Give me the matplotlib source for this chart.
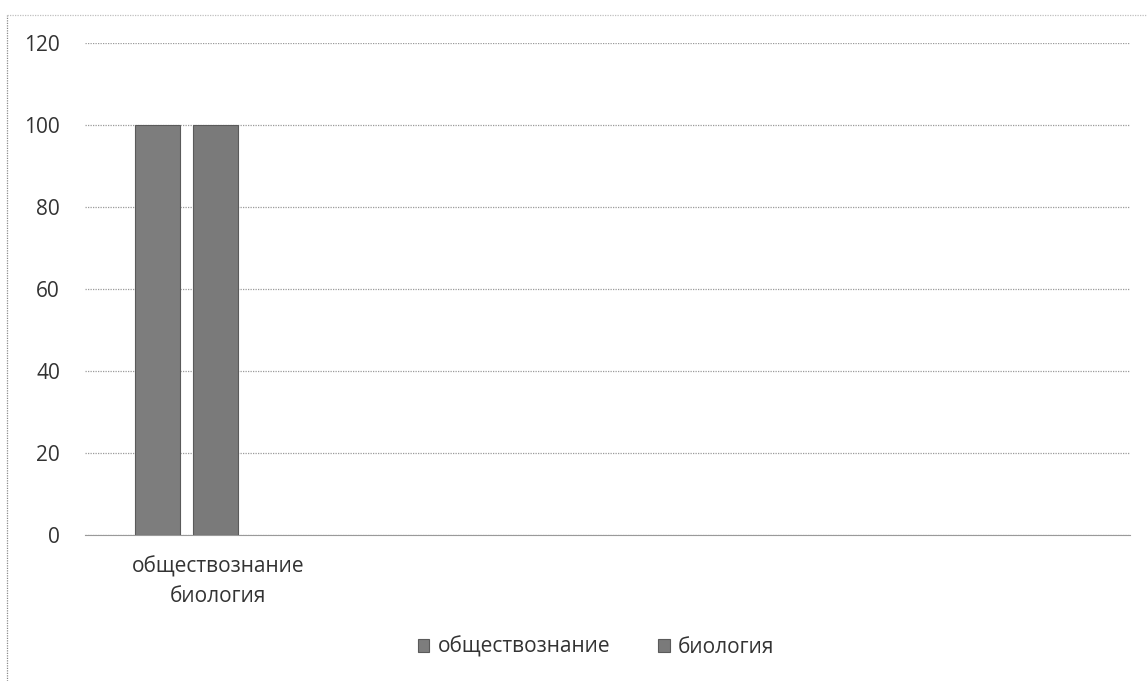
import matplotlib
matplotlib.use("Agg")
import matplotlib.pyplot as plt
import matplotlib.transforms as mtransforms
from matplotlib.lines import Line2D

categories = ["обществознание\nбиология"]
series_names = ["обществознание", "биология"]
series_values = [[100], [100]]
y_ticks = [0, 20, 40, 60, 80, 100, 120]

plt.rcParams['font.family'] = ['Open Sans', 'DejaVu Sans']

W, H = 1147, 681
fig = plt.figure(figsize=(W / 100, H / 100), dpi=100)
ax = fig.add_axes([85 / W, 1 - 535 / H, (1130 - 85) / W, (535 - 43) / H])

colors = ["#7d7d7d", "#7a7a7a"]
offsets = [-0.141, 0.146]
width = 0.223
for i, (name, vals) in enumerate(zip(series_names, series_values)):
    xs = [j + offsets[i] for j in range(len(categories))]
    ax.bar(xs, vals, width=width, color=colors[i], edgecolor="#5a5a5a",
           linewidth=0.8, label=name, zorder=3)

ax.set_xlim(-0.5, 4.67)
ax.set_ylim(0, 120)
ax.set_yticks(y_ticks)
ax.set_yticklabels([str(t) for t in y_ticks], fontsize=15, color="#333333")
ax.tick_params(axis='y', length=0, pad=18)
ax.set_xticks(range(len(categories)))
ax.set_xticklabels(categories, fontsize=15, color="#333333", linespacing=1.55)
ax.tick_params(axis='x', length=0, pad=15)
shift = mtransforms.ScaledTranslation(32 / 100, 0, fig.dpi_scale_trans)
for lbl in ax.get_xticklabels():
    lbl.set_transform(lbl.get_transform() + shift)

ax.grid(axis='y', color="#9a9a9a", linestyle=(0, (1, 1)), linewidth=0.9, zorder=0)
for s in ["top", "right", "left"]:
    ax.spines[s].set_visible(False)
ax.spines["bottom"].set_color("#9a9a9a")
ax.spines["bottom"].set_linestyle((0, (1, 1)))

leg = fig.legend(loc="center", bbox_to_anchor=(596 / W, 1 - 647 / H), ncol=2,
                 frameon=False, fontsize=15, handlelength=0.55, handleheight=0.55,
                 columnspacing=2.3, handletextpad=0.4)
for t in leg.get_texts():
    t.set_color("#333333")

# chart-area border (partly visible in scan)
fig.add_artist(Line2D([7 / W, 7 / W], [0, 1 - 15 / H], transform=fig.transFigure,
                      color="#8a8a8a", linestyle=(0, (1, 1)), linewidth=0.9))
fig.add_artist(Line2D([7 / W, 1], [1 - 15 / H, 1 - 15 / H], transform=fig.transFigure,
                      color="#c0c0c0", linestyle=(0, (1, 1)), linewidth=0.9))

fig.savefig("out.png", dpi=100)
